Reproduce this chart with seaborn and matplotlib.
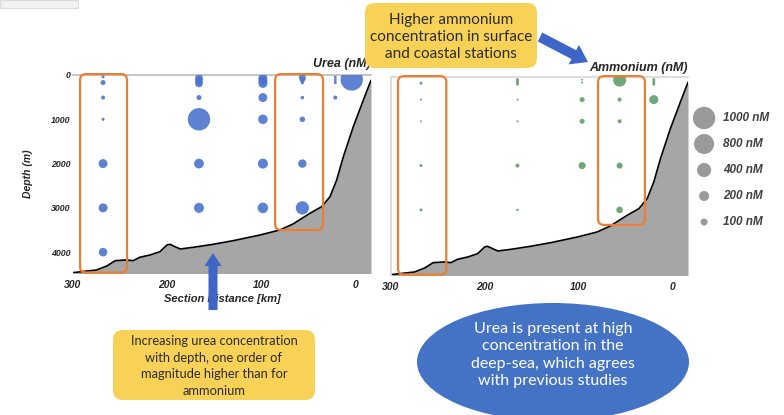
import numpy as np
import pandas as pd
import matplotlib
matplotlib.use('Agg')
import matplotlib.pyplot as plt
import seaborn as sns
from matplotlib.patches import FancyBboxPatch, Ellipse, Rectangle

sns.set_theme(style="white")
plt.rcParams['font.family'] = ['Liberation Sans', 'DejaVu Sans']

# urea: estacion (km), profundidad (m), concentracion (nM)
urea_km = [268, 268, 268, 268, 268, 268, 268,
           166, 166, 166, 166, 166, 166, 166,
           98, 98, 98, 98, 98, 98, 98,
           56, 56, 56, 56, 56, 56, 56,
           21, 21, 21, 21,
           3.5]
urea_prof = [40, 170, 510, 1000, 2000, 3000, 4000,
             70, 130, 190, 510, 1000, 2000, 3000,
             70, 130, 190, 510, 1000, 2000, 3000,
             60, 120, 180, 510, 1000, 2000, 3000,
             50, 110, 170, 510,
             100]
urea_nm = [18, 50, 32, 18, 160, 160, 145,
           120, 120, 120, 50, 1000, 190, 200,
           160, 160, 160, 160, 180, 200, 220,
           100, 50, 18, 25, 60, 140, 350,
           18, 18, 18, 32,
           1100]

# amonio
amon_km = [268, 268, 268, 268, 268,
           165, 165, 165, 165, 165, 165, 165,
           96, 96, 96, 96, 96,
           56, 56, 56, 56, 56,
           19.5, 19.5, 19.5, 19.5]
amon_prof = [140, 510, 1000, 2000, 3000,
             60, 110, 160, 510, 1000, 2000, 3000,
             60, 130, 510, 1000, 2000,
             70, 510, 1000, 2000, 3000,
             60, 110, 160, 510]
amon_nm = [18, 8, 8, 18, 18,
           18, 18, 18, 8, 8, 32, 12,
           8, 8, 50, 50, 100,
           340, 32, 32, 72, 85,
           18, 18, 18, 160]

# batimetria del transecto
bat_km = [300, 275, 264, 255, 243, 236, 229, 218, 207.5, 200, 197, 186, 172,
          151, 129.5, 101, 80, 66, 48, 35.4, 26.6, 19.5, 12.4, 1.8, -8.9, -17]
bat_prof = [4462, 4402, 4311, 4191, 4176, 4191, 4116, 4063, 3988, 3837, 3822,
            3928, 3890, 3822, 3740, 3612, 3499, 3364, 3123, 2972, 2747, 2370,
            1844, 1166, 564, 120]

leyenda_nm = [1000, 800, 400, 200, 100]
leyenda_txt = ['1000 nM', '800 nM', '400 nM', '200 nM', '100 nM']

W, H = 784, 415
fig = plt.figure(figsize=(W / 100, H / 100), dpi=100)

def px_axes(x0, y0, x1, y1):
    return fig.add_axes([x0 / W, 1 - y1 / H, (x1 - x0) / W, (y1 - y0) / H])

SIZES = (0, 260)
NORM = (0, 1000)
XLIM = (300, -17)
YLIM = (4470, 0)
bold_it = dict(fontweight='bold', fontstyle='italic')

def panel(ax, km, prof, conc, color):
    ax.fill_between(bat_km, bat_prof, 4600, color='#a6a6a6', lw=0, zorder=1)
    sns.lineplot(x=bat_km, y=bat_prof, color='black', lw=1.2, ax=ax,
                 estimator=None, sort=False, zorder=2)
    df = pd.DataFrame({'km': km, 'prof': prof, 'conc': conc})
    sns.scatterplot(data=df, x='km', y='prof', size='conc', sizes=SIZES,
                    size_norm=NORM, color=color, linewidth=0, alpha=0.9,
                    legend=False, ax=ax, zorder=3)
    ax.set_xlim(*XLIM)
    ax.set_ylim(*YLIM)
    ax.set_xticks([300, 200, 100, 0])
    ax.set_xticklabels(['300', '200', '100', '0'], fontsize=7.5, **bold_it)
    ax.tick_params(length=0, pad=5)
    ax.set_xlabel('')
    ax.set_ylabel('')
    for s in ax.spines.values():
        s.set_visible(False)

def caja(ax, k0, k1, d0, d1):
    # rectangulo naranja redondeado en unidades de datos
    bb = ax.get_position()
    kpp = abs(XLIM[0] - XLIM[1]) / (bb.width * W)
    mpp = abs(YLIM[0] - YLIM[1]) / (bb.height * H)
    r = 6 * kpp
    p = FancyBboxPatch((k0, d0), k1 - k0, d1 - d0,
                       boxstyle=f"round,pad=0,rounding_size={r}",
                       mutation_aspect=mpp / kpp, fc='none', ec='#ed7d31',
                       lw=1.6, zorder=5, clip_on=False)
    ax.add_patch(p)

# panel urea
ax1 = px_axes(73, 75, 371, 273)
panel(ax1, urea_km, urea_prof, urea_nm, '#4a74cc')
ax1.set_yticks([0, 1000, 2000, 3000, 4000])
ax1.set_yticklabels(['0', '1000', '2000', '3000', '4000'], fontsize=6.3, **bold_it)
ax1.tick_params(axis='y', pad=2)
ax1.spines['top'].set_visible(True)
ax1.spines['top'].set_color('#bfbfbf')
ax1.set_xlabel('Section Distance [km]', fontsize=8, labelpad=3, **bold_it)
ax1.set_ylabel('Depth (m)', fontsize=7.5, labelpad=13, **bold_it)
ax1.set_title('Urea (nM)', loc='right', fontsize=9, pad=6, **bold_it)
caja(ax1, 242.5, 292.5, -20, 4460)
caja(ax1, 34, 85, -20, 3500)

# panel amonio
ax2 = px_axes(391, 77, 688, 275)
panel(ax2, amon_km, amon_prof, amon_nm, '#5e9f68')
ax2.set_yticks([0, 1000, 2000, 3000, 4000])
ax2.set_yticklabels([])
for s in ['top', 'left']:
    ax2.spines[s].set_visible(True)
    ax2.spines[s].set_color('#d9d9d9')
ax2.set_title('Ammonium (nM)', loc='right', fontsize=9, pad=4, **bold_it)
caja(ax2, 241, 292.5, -20, 4460)
caja(ax2, 29, 79, -20, 3340)

# leyenda de tamaños
axl = px_axes(690, 105, 784, 235)
dl = pd.DataFrame({'x': 0, 'y': range(len(leyenda_nm)), 'conc': leyenda_nm})
sns.scatterplot(data=dl, x='x', y='y', size='conc', sizes=SIZES, size_norm=NORM,
                color='#9a9a9a', linewidth=0, legend=False, ax=axl)
for i, t in enumerate(leyenda_txt):
    axl.text(0.2, i, t, va='center', ha='left', fontsize=8.5, color='#404040', **bold_it)
axl.set_xlim(-0.15, 0.85)
axl.set_ylim(len(leyenda_nm) - 0.5, -0.5)
axl.axis('off')

# anotaciones (coordenadas en pixeles)
ov = fig.add_axes([0, 0, 1, 1], zorder=10)
ov.set_xlim(0, W)
ov.set_ylim(H, 0)
ov.axis('off')
ov.patch.set_alpha(0)

ov.add_patch(Rectangle((0, 0), 78, 8, fc='#f2f2f2', ec='#dcdcdc', lw=0.8))

amarillo = '#f8d256'
azul = '#4472c4'
ov.add_patch(FancyBboxPatch((365, 3), 172, 65, boxstyle="round,pad=0,rounding_size=10",
                            fc=amarillo, ec='none'))
ov.text(451, 37, 'Higher ammonium\nconcentration in surface\nand coastal stations',
        ha='center', va='center', fontsize=11, family='Lato', color='#2b2b2b',
        linespacing=1.3)
ov.arrow(540, 37, 48, 25, width=10, head_width=22, head_length=16,
         length_includes_head=True, color='#3d66c6', lw=0)

ov.arrow(213, 310, 0, -57, width=9, head_width=17, head_length=13,
         length_includes_head=True, color='#3d66c6', lw=0)
ov.add_patch(FancyBboxPatch((113, 330), 202, 70, boxstyle="round,pad=0,rounding_size=10",
                            fc=amarillo, ec='none'))
ov.text(214, 366, 'Increasing urea concentration\nwith depth, one order of\nmagnitude higher than for\nammonium',
        ha='center', va='center', fontsize=9.3, family='Lato', color='#2b2b2b',
        linespacing=1.45)

ov.add_patch(Ellipse((553, 362), 272, 118, fc=azul, ec='none'))
ov.text(553, 355, 'Urea is present at high\nconcentration in the\ndeep-sea, which agrees\nwith previous studies',
        ha='center', va='center', fontsize=11.5, family='Lato', color='white',
        linespacing=1.3)

fig.savefig('out.png', dpi=100)
